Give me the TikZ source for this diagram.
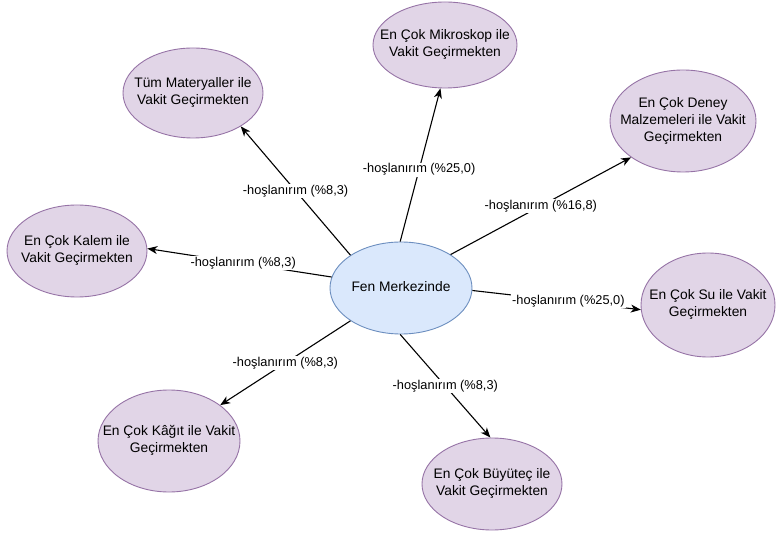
\documentclass[tikz,border=0pt]{standalone}
\usepackage{fontspec}
\setmainfont{Liberation Sans}
\usetikzlibrary{arrows.meta,shapes.geometric}
\definecolor{pfill}{HTML}{E1D5E7}
\definecolor{pdraw}{HTML}{9673A6}
\definecolor{bfill}{HTML}{DAE8FC}
\definecolor{bdraw}{HTML}{6C8EBF}
\newcommand\zlines[1]{\makebox[0pt]{\begin{tabular}{@{}c@{}}#1\end{tabular}}}
\tikzset{
  outer/.style={ellipse, draw=pdraw, fill=pfill, line width=0.9pt, inner sep=0pt,
    font=\fontsize{13.8}{17}\selectfont},
  hub/.style={ellipse, draw=bdraw, fill=bfill, line width=0.9pt, inner sep=0pt,
    font=\fontsize{13.8}{17}\selectfont},
  conn/.style={line width=1.1pt, -{Stealth[length=10pt,width=8pt,inset=3pt]}},
  lbl/.style={fill=white, inner sep=1pt, font=\fontsize{12.8}{15}\selectfont}
}
\begin{document}
\begin{tikzpicture}[x=1pt,y=-1pt]
\useasboundingbox (0,0) rectangle (776,534);
\node[hub, minimum width=142, minimum height=92] (c) at (401,288) {\zlines{Fen Merkezinde}};
\node[outer, minimum width=140, minimum height=90] (t) at (193,93) {\zlines{Tüm Materyaller ile\\Vakit Geçirmekten}};
\node[outer, minimum width=144, minimum height=86] (m) at (445,45) {\zlines{En Çok Mikroskop ile\\Vakit Geçirmekten}};
\node[outer, minimum width=146, minimum height=102] (d) at (683,121) {\zlines{En Çok Deney\\Malzemeleri ile Vakit\\Geçirmekten}};
\node[outer, minimum width=140, minimum height=92] (k) at (77,251) {\zlines{En Çok Kalem ile\\Vakit Geçirmekten}};
\node[outer, minimum width=134, minimum height=104] (s) at (708,305) {\zlines{En Çok Su ile Vakit\\Geçirmekten}};
\node[outer, minimum width=142, minimum height=102] (g) at (169,441) {\zlines{En Çok Kâğıt ile Vakit\\Geçirmekten}};
\node[outer, minimum width=140, minimum height=92] (b) at (492,484) {\zlines{En Çok Büyüteç ile\\Vakit Geçirmekten}};

\draw[conn] (c.147) -- node[lbl, pos=0.5] (lt) {-hoşlanırım (\%8,3)} (t.-35);
\draw[conn] (c.91) -- node[lbl, pos=0.47] (lm) {-hoşlanırım (\%25,0)} (m.-96);
\draw[conn] (c.34) -- node[lbl, pos=0.5] (ld) {-hoşlanırım (\%16,8)} (d.215);
\draw[conn] (c.171) -- node[lbl, pos=0.48] (lk) {-hoşlanırım (\%8,3)} (k.2);
\draw[conn] (c.-2) -- node[lbl, pos=0.57] (ls) {-hoşlanırım (\%25,0)} (s.184);
\draw[conn] (c.213) -- node[lbl, pos=0.5] (lg) {-hoşlanırım (\%8,3)} (g.35);
\draw[conn] (c.269) -- node[lbl, pos=0.5] (lb) {-hoşlanırım (\%8,3)} (b.92);
\end{tikzpicture}
\end{document}
